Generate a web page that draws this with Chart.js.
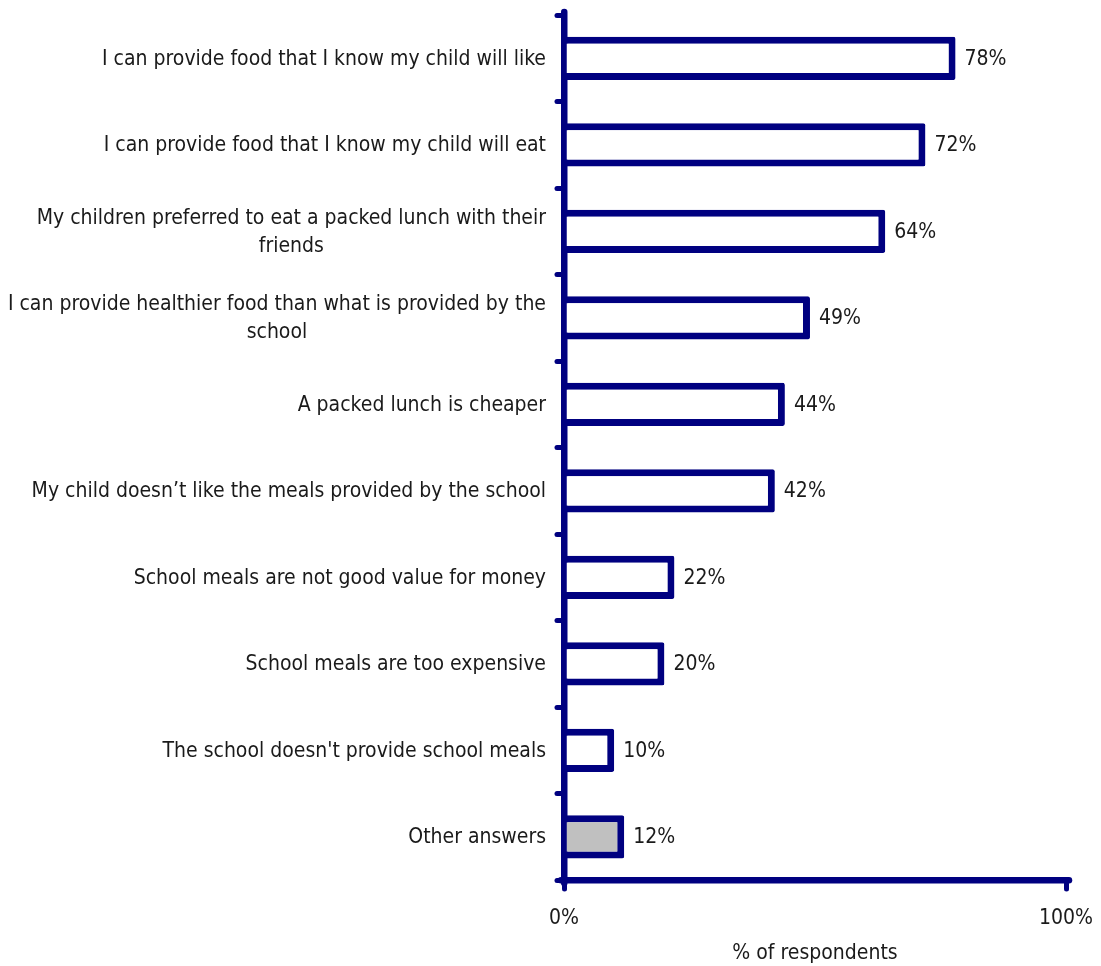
<!DOCTYPE html>
<html>
<head>
<meta charset="utf-8">
<script src="https://cdn.jsdelivr.net/npm/chart.js@4/dist/chart.umd.min.js"></script>
<style>
  html, body { margin: 0; padding: 0; background: #fff; }
  #wrap { width: 1101px; height: 966px; }
</style>
</head>
<body>
<div id="wrap"><canvas id="reasons" width="1101" height="966"></canvas></div>
<script>
// reasons for choosing a packed lunch, % of respondents
const reasons = [
  ['I can provide food that I know my child will like'],
  ['I can provide food that I know my child will eat'],
  ['My children preferred to eat a packed lunch with their', 'friends'],
  ['I can provide healthier food than what is provided by the', 'school'],
  ['A packed lunch is cheaper'],
  ['My child doesn\u2019t like the meals provided by the school'],
  ['School meals are not good value for money'],
  ['School meals are too expensive'],
  ["The school doesn't provide school meals"],
  ['Other answers']
];
const shares = [78, 72, 64, 49, 44, 42, 22, 20, 10, 12];
const xTicks = [0, 100];

const NAVY = '#000080';
const INK = '#1a1a1a';
const FONT = '"DejaVu Sans Condensed", "DejaVu Sans", sans-serif';
const SIZE = 21;

// right-aligned category text, extra lines centred under the first
const categoryText = {
  id: 'categoryText',
  afterDraw(chart) {
    const { ctx, scales: { y } } = chart;
    const right = chart.chartArea.left - 18;
    const lh = 28;
    ctx.save();
    ctx.font = SIZE + 'px ' + FONT;
    ctx.fillStyle = INK;
    ctx.textBaseline = 'middle';
    ctx.textAlign = 'center';
    reasons.forEach((lines, i) => {
      const w = Math.max(...lines.map(l => ctx.measureText(l).width));
      const cx = right - w / 2;
      const cy = y.getPixelForValue(i) + 1 - (lines.length - 1) * lh / 2;
      lines.forEach((l, k) => ctx.fillText(l, cx, cy + k * lh));
    });
    ctx.restore();
  }
};

const valueText = {
  id: 'valueText',
  afterDatasetsDraw(chart) {
    const { ctx } = chart;
    const meta = chart.getDatasetMeta(0);
    ctx.save();
    ctx.font = SIZE + 'px ' + FONT;
    ctx.fillStyle = INK;
    ctx.textBaseline = 'middle';
    ctx.textAlign = 'left';
    meta.data.forEach((bar, i) => ctx.fillText(shares[i] + '%', bar.x + 9, bar.y + 1));
    ctx.restore();
  }
};

const roundCaps = {
  id: 'roundCaps',
  beforeDraw(chart) { chart.ctx.lineCap = 'round'; chart.ctx.lineJoin = 'round'; }
};

new Chart(document.getElementById('reasons'), {
  type: 'bar',
  data: {
    labels: reasons,
    datasets: [{
      data: shares,
      backgroundColor: shares.map((_, i) => i === shares.length - 1 ? '#c0c0c0' : '#ffffff'),
      borderColor: NAVY,
      borderWidth: 7,
      borderSkipped: 'start',
      borderRadius: 2,
      barPercentage: 1,
      categoryPercentage: 0.5
    }]
  },
  options: {
    indexAxis: 'y',
    responsive: false,
    animation: false,
    layout: { padding: { top: 15, right: 35, left: 0, bottom: 0 } },
    plugins: { legend: { display: false }, tooltip: { enabled: false } },
    scales: {
      y: {
        type: 'category',
        afterFit(scale) { scale.width = 564; scale.paddingTop = 0; scale.paddingBottom = 0; },
        ticks: { display: false },
        grid: { offset: true, drawOnChartArea: false, color: NAVY, lineWidth: 5, tickLength: 7 },
        border: { color: NAVY, width: 6.5 }
      },
      x: {
        min: 0, max: 100,
        afterFit(scale) { scale.height = 86; scale.paddingLeft = 0; scale.paddingRight = 0; },
        afterBuildTicks(scale) { scale.ticks = xTicks.map(v => ({ value: v })); },
        ticks: {
          color: INK, padding: 17, maxRotation: 0,
          font: { family: FONT, size: SIZE },
          callback: v => v + '%'
        },
        grid: { drawOnChartArea: false, color: NAVY, lineWidth: 5, tickLength: 9 },
        border: { color: NAVY, width: 6.5 },
        title: {
          display: true, text: '% of respondents', color: INK,
          font: { family: FONT, size: SIZE },
          padding: { top: 0, bottom: 0 }
        }
      }
    }
  },
  plugins: [roundCaps, categoryText, valueText]
});
</script>
</body>
</html>
